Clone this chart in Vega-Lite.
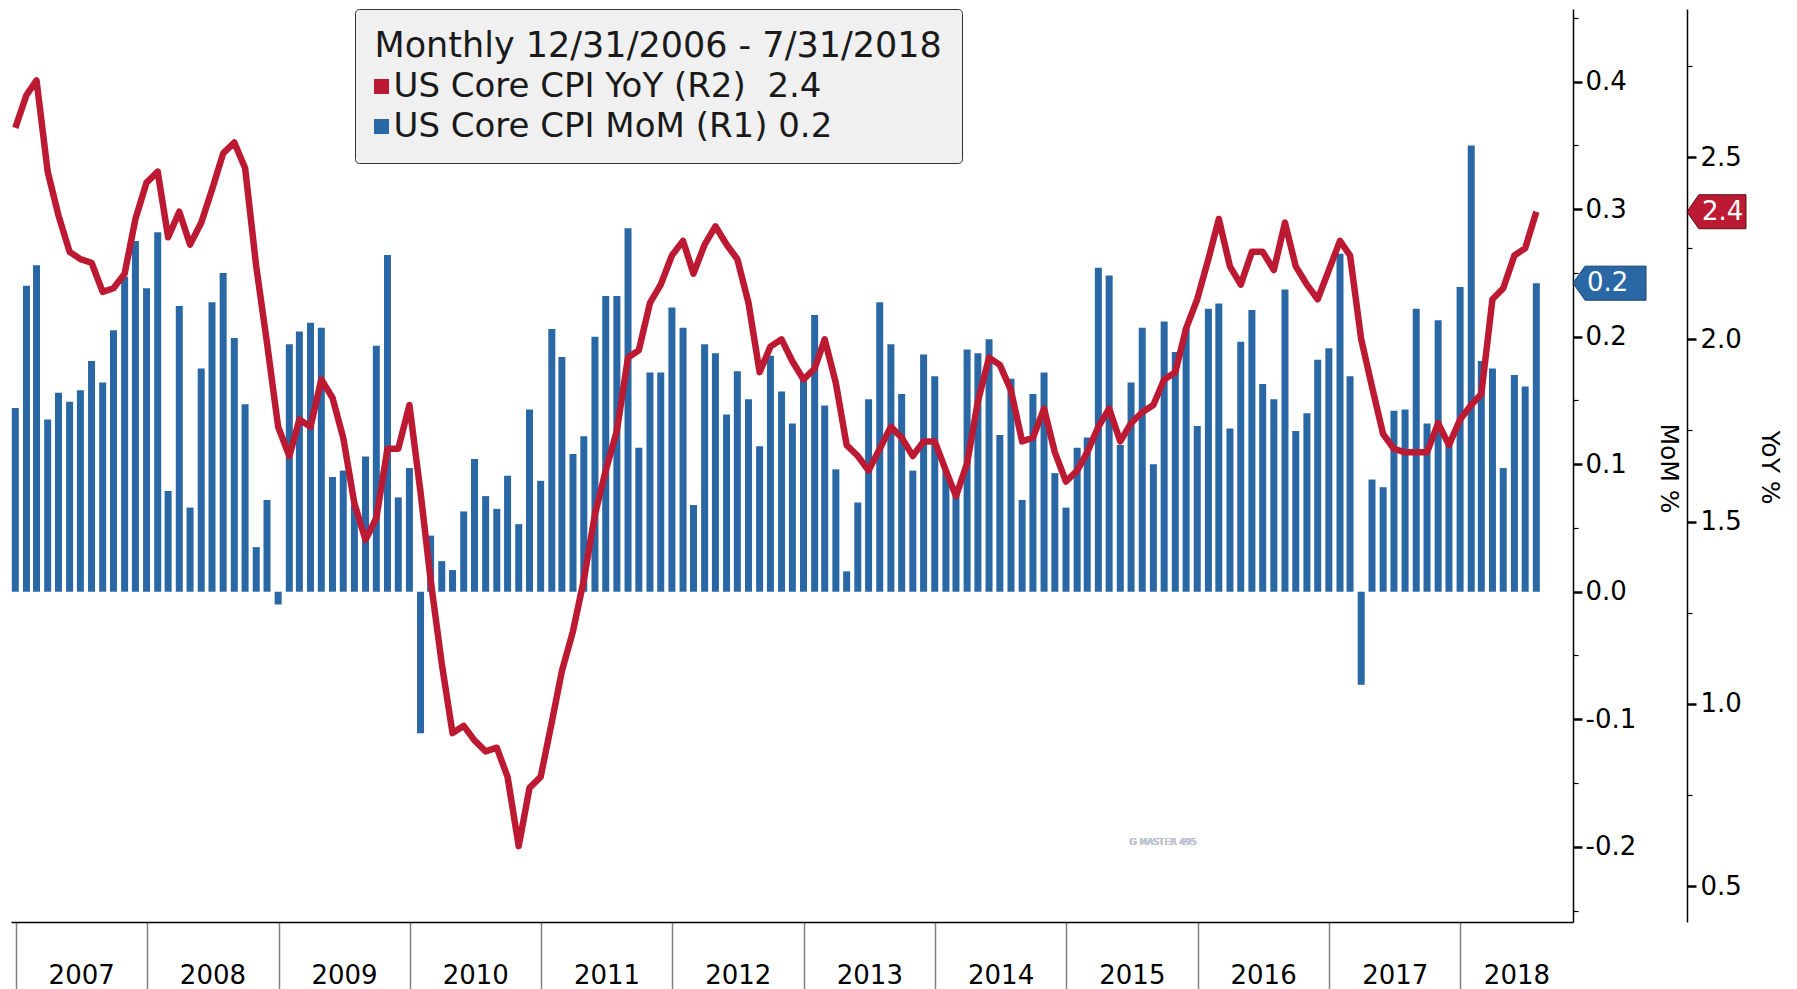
{
  "$schema": "https://vega.github.io/schema/vega-lite/v6.json",
  "width": 1562,
  "height": 913,
  "autosize": {"type": "none"},
  "padding": {"left": 11, "top": 9, "right": 224, "bottom": 67},
  "background": "white",
  "config": {"view": {"stroke": null}, "font": "DejaVu Sans"},
  "data": {"values": [
    {"date": "2006-12-31", "mom": 0.144, "yoy": 2.58},
    {"date": "2007-01-31", "mom": 0.240, "yoy": 2.67},
    {"date": "2007-02-28", "mom": 0.256, "yoy": 2.71},
    {"date": "2007-03-31", "mom": 0.135, "yoy": 2.46},
    {"date": "2007-04-30", "mom": 0.156, "yoy": 2.34},
    {"date": "2007-05-31", "mom": 0.149, "yoy": 2.24},
    {"date": "2007-06-30", "mom": 0.158, "yoy": 2.22},
    {"date": "2007-07-31", "mom": 0.181, "yoy": 2.21},
    {"date": "2007-08-31", "mom": 0.164, "yoy": 2.13},
    {"date": "2007-09-30", "mom": 0.205, "yoy": 2.14},
    {"date": "2007-10-31", "mom": 0.247, "yoy": 2.18},
    {"date": "2007-11-30", "mom": 0.275, "yoy": 2.33},
    {"date": "2007-12-31", "mom": 0.238, "yoy": 2.43},
    {"date": "2008-01-31", "mom": 0.282, "yoy": 2.46},
    {"date": "2008-02-29", "mom": 0.079, "yoy": 2.28},
    {"date": "2008-03-31", "mom": 0.224, "yoy": 2.35},
    {"date": "2008-04-30", "mom": 0.066, "yoy": 2.26},
    {"date": "2008-05-31", "mom": 0.175, "yoy": 2.32},
    {"date": "2008-06-30", "mom": 0.227, "yoy": 2.41},
    {"date": "2008-07-31", "mom": 0.250, "yoy": 2.51},
    {"date": "2008-08-31", "mom": 0.199, "yoy": 2.54},
    {"date": "2008-09-30", "mom": 0.147, "yoy": 2.47},
    {"date": "2008-10-31", "mom": 0.035, "yoy": 2.20},
    {"date": "2008-11-30", "mom": 0.072, "yoy": 1.99},
    {"date": "2008-12-31", "mom": -0.010, "yoy": 1.76},
    {"date": "2009-01-31", "mom": 0.194, "yoy": 1.68},
    {"date": "2009-02-28", "mom": 0.204, "yoy": 1.78},
    {"date": "2009-03-31", "mom": 0.211, "yoy": 1.76},
    {"date": "2009-04-30", "mom": 0.207, "yoy": 1.89},
    {"date": "2009-05-31", "mom": 0.090, "yoy": 1.84},
    {"date": "2009-06-30", "mom": 0.095, "yoy": 1.73},
    {"date": "2009-07-31", "mom": 0.068, "yoy": 1.55},
    {"date": "2009-08-31", "mom": 0.106, "yoy": 1.45},
    {"date": "2009-09-30", "mom": 0.193, "yoy": 1.51},
    {"date": "2009-10-31", "mom": 0.264, "yoy": 1.70},
    {"date": "2009-11-30", "mom": 0.074, "yoy": 1.70},
    {"date": "2009-12-31", "mom": 0.097, "yoy": 1.82},
    {"date": "2010-01-31", "mom": -0.111, "yoy": 1.58},
    {"date": "2010-02-28", "mom": 0.044, "yoy": 1.34},
    {"date": "2010-03-31", "mom": 0.024, "yoy": 1.11},
    {"date": "2010-04-30", "mom": 0.017, "yoy": 0.92},
    {"date": "2010-05-31", "mom": 0.063, "yoy": 0.94},
    {"date": "2010-06-30", "mom": 0.104, "yoy": 0.90},
    {"date": "2010-07-31", "mom": 0.075, "yoy": 0.87},
    {"date": "2010-08-31", "mom": 0.065, "yoy": 0.88},
    {"date": "2010-09-30", "mom": 0.091, "yoy": 0.80},
    {"date": "2010-10-31", "mom": 0.053, "yoy": 0.61},
    {"date": "2010-11-30", "mom": 0.143, "yoy": 0.77},
    {"date": "2010-12-31", "mom": 0.087, "yoy": 0.80},
    {"date": "2011-01-31", "mom": 0.206, "yoy": 0.95},
    {"date": "2011-02-28", "mom": 0.184, "yoy": 1.09},
    {"date": "2011-03-31", "mom": 0.108, "yoy": 1.20},
    {"date": "2011-04-30", "mom": 0.122, "yoy": 1.34},
    {"date": "2011-05-31", "mom": 0.200, "yoy": 1.52},
    {"date": "2011-06-30", "mom": 0.232, "yoy": 1.64},
    {"date": "2011-07-31", "mom": 0.232, "yoy": 1.75},
    {"date": "2011-08-31", "mom": 0.285, "yoy": 1.95},
    {"date": "2011-09-30", "mom": 0.113, "yoy": 1.97},
    {"date": "2011-10-31", "mom": 0.172, "yoy": 2.10},
    {"date": "2011-11-30", "mom": 0.172, "yoy": 2.15},
    {"date": "2011-12-31", "mom": 0.223, "yoy": 2.23},
    {"date": "2012-01-31", "mom": 0.207, "yoy": 2.27},
    {"date": "2012-02-29", "mom": 0.068, "yoy": 2.18},
    {"date": "2012-03-31", "mom": 0.194, "yoy": 2.26},
    {"date": "2012-04-30", "mom": 0.187, "yoy": 2.31},
    {"date": "2012-05-31", "mom": 0.139, "yoy": 2.26},
    {"date": "2012-06-30", "mom": 0.173, "yoy": 2.22},
    {"date": "2012-07-31", "mom": 0.151, "yoy": 2.10},
    {"date": "2012-08-31", "mom": 0.114, "yoy": 1.91},
    {"date": "2012-09-30", "mom": 0.185, "yoy": 1.98},
    {"date": "2012-10-31", "mom": 0.157, "yoy": 2.00},
    {"date": "2012-11-30", "mom": 0.132, "yoy": 1.94},
    {"date": "2012-12-31", "mom": 0.168, "yoy": 1.89},
    {"date": "2013-01-31", "mom": 0.217, "yoy": 1.92},
    {"date": "2013-02-28", "mom": 0.146, "yoy": 2.00},
    {"date": "2013-03-31", "mom": 0.096, "yoy": 1.88},
    {"date": "2013-04-30", "mom": 0.016, "yoy": 1.71},
    {"date": "2013-05-31", "mom": 0.070, "yoy": 1.68},
    {"date": "2013-06-30", "mom": 0.151, "yoy": 1.64},
    {"date": "2013-07-31", "mom": 0.227, "yoy": 1.70},
    {"date": "2013-08-31", "mom": 0.194, "yoy": 1.76},
    {"date": "2013-09-30", "mom": 0.155, "yoy": 1.73},
    {"date": "2013-10-31", "mom": 0.095, "yoy": 1.68},
    {"date": "2013-11-30", "mom": 0.186, "yoy": 1.72},
    {"date": "2013-12-31", "mom": 0.169, "yoy": 1.72},
    {"date": "2014-01-31", "mom": 0.095, "yoy": 1.64},
    {"date": "2014-02-28", "mom": 0.080, "yoy": 1.57},
    {"date": "2014-03-31", "mom": 0.190, "yoy": 1.66},
    {"date": "2014-04-30", "mom": 0.187, "yoy": 1.83},
    {"date": "2014-05-31", "mom": 0.198, "yoy": 1.95},
    {"date": "2014-06-30", "mom": 0.123, "yoy": 1.93},
    {"date": "2014-07-31", "mom": 0.167, "yoy": 1.86},
    {"date": "2014-08-31", "mom": 0.072, "yoy": 1.72},
    {"date": "2014-09-30", "mom": 0.155, "yoy": 1.73},
    {"date": "2014-10-31", "mom": 0.172, "yoy": 1.81},
    {"date": "2014-11-30", "mom": 0.093, "yoy": 1.69},
    {"date": "2014-12-31", "mom": 0.066, "yoy": 1.61},
    {"date": "2015-01-31", "mom": 0.113, "yoy": 1.64},
    {"date": "2015-02-28", "mom": 0.121, "yoy": 1.69},
    {"date": "2015-03-31", "mom": 0.254, "yoy": 1.76},
    {"date": "2015-04-30", "mom": 0.248, "yoy": 1.81},
    {"date": "2015-05-31", "mom": 0.115, "yoy": 1.72},
    {"date": "2015-06-30", "mom": 0.164, "yoy": 1.77},
    {"date": "2015-07-31", "mom": 0.207, "yoy": 1.80},
    {"date": "2015-08-31", "mom": 0.100, "yoy": 1.82},
    {"date": "2015-09-30", "mom": 0.212, "yoy": 1.89},
    {"date": "2015-10-31", "mom": 0.188, "yoy": 1.91},
    {"date": "2015-11-30", "mom": 0.207, "yoy": 2.03},
    {"date": "2015-12-31", "mom": 0.130, "yoy": 2.11},
    {"date": "2016-01-31", "mom": 0.222, "yoy": 2.22},
    {"date": "2016-02-29", "mom": 0.226, "yoy": 2.33},
    {"date": "2016-03-31", "mom": 0.128, "yoy": 2.20},
    {"date": "2016-04-30", "mom": 0.196, "yoy": 2.15},
    {"date": "2016-05-31", "mom": 0.221, "yoy": 2.24},
    {"date": "2016-06-30", "mom": 0.163, "yoy": 2.24},
    {"date": "2016-07-31", "mom": 0.151, "yoy": 2.19},
    {"date": "2016-08-31", "mom": 0.237, "yoy": 2.32},
    {"date": "2016-09-30", "mom": 0.126, "yoy": 2.20},
    {"date": "2016-10-31", "mom": 0.140, "yoy": 2.15},
    {"date": "2016-11-30", "mom": 0.182, "yoy": 2.11},
    {"date": "2016-12-31", "mom": 0.191, "yoy": 2.19},
    {"date": "2017-01-31", "mom": 0.265, "yoy": 2.27},
    {"date": "2017-02-28", "mom": 0.169, "yoy": 2.23},
    {"date": "2017-03-31", "mom": -0.073, "yoy": 2.00},
    {"date": "2017-04-30", "mom": 0.088, "yoy": 1.87},
    {"date": "2017-05-31", "mom": 0.082, "yoy": 1.74},
    {"date": "2017-06-30", "mom": 0.142, "yoy": 1.70},
    {"date": "2017-07-31", "mom": 0.143, "yoy": 1.69},
    {"date": "2017-08-31", "mom": 0.222, "yoy": 1.69},
    {"date": "2017-09-30", "mom": 0.132, "yoy": 1.69},
    {"date": "2017-10-31", "mom": 0.213, "yoy": 1.77},
    {"date": "2017-11-30", "mom": 0.115, "yoy": 1.71},
    {"date": "2017-12-31", "mom": 0.239, "yoy": 1.78},
    {"date": "2018-01-31", "mom": 0.350, "yoy": 1.82},
    {"date": "2018-02-28", "mom": 0.181, "yoy": 1.85},
    {"date": "2018-03-31", "mom": 0.175, "yoy": 2.11},
    {"date": "2018-04-30", "mom": 0.097, "yoy": 2.14},
    {"date": "2018-05-31", "mom": 0.170, "yoy": 2.23},
    {"date": "2018-06-30", "mom": 0.161, "yoy": 2.25},
    {"date": "2018-07-31", "mom": 0.242, "yoy": 2.35}
  ]},
  "encoding": {
    "x": {
      "field": "date",
      "type": "temporal",
      "scale": {"type": "utc", "padding": 0, "nice": false, "domain": [{"year": 2006, "month": 12, "date": 19, "utc": true}, {"year": 2018, "month": 11, "date": 10, "utc": true}]},
      "axis": {
        "values": [
          {"year": 2007, "month": 1, "date": 1, "utc": true},
          {"year": 2008, "month": 1, "date": 1, "utc": true},
          {"year": 2009, "month": 1, "date": 1, "utc": true},
          {"year": 2010, "month": 1, "date": 1, "utc": true},
          {"year": 2011, "month": 1, "date": 1, "utc": true},
          {"year": 2012, "month": 1, "date": 1, "utc": true},
          {"year": 2013, "month": 1, "date": 1, "utc": true},
          {"year": 2014, "month": 1, "date": 1, "utc": true},
          {"year": 2015, "month": 1, "date": 1, "utc": true},
          {"year": 2016, "month": 1, "date": 1, "utc": true},
          {"year": 2017, "month": 1, "date": 1, "utc": true},
          {"year": 2018, "month": 1, "date": 1, "utc": true}
        ],
        "format": "%Y",
        "title": null,
        "grid": false,
        "domainColor": "#000000",
        "domainWidth": 1.5,
        "tickColor": "#808080",
        "tickWidth": 1.5,
        "tickSize": 70,
        "labelFont": "DejaVu Sans",
        "labelFontSize": 26,
        "labelColor": "#000000",
        "labelAlign": "center",
        "labelBaseline": "top",
        "labelPadding": -30,
        "labelOffset": {"condition": {"test": "utcyear(datum.value) == 2018", "value": 56}, "value": 65.5},
        "labelOverlap": false,
        "labelFlush": false,
        "labelBound": false
      }
    }
  },
  "layer": [
    {
      "encoding": {
        "y": {
          "field": "mom",
          "type": "quantitative",
          "scale": {"domain": [-0.259, 0.457], "nice": false, "zero": false, "padding": 0},
          "axis": {
            "orient": "right",
            "title": "MoM %",
            "values": [-0.25, -0.2, -0.15, -0.1, -0.05, 0, 0.05, 0.1, 0.15, 0.2, 0.25, 0.3, 0.35, 0.4, 0.45],
            "labelExpr": "abs(round(datum.value*100)) % 10 == 0 ? replace(format(datum.value, '.1f'), '\u2212', '-') : ''",
            "grid": false,
            "domainColor": "#000000",
            "domainWidth": 1.5,
            "tickColor": "#000000",
            "tickSize": {"condition": {"test": "abs(round(datum.value*100)) % 10 == 0", "value": 9}, "value": 5},
            "tickWidth": {"condition": {"test": "abs(round(datum.value*100)) % 10 == 0", "value": 2.5}, "value": 1.2},
            "labelPadding": 3,
            "labelFont": "DejaVu Sans",
            "labelFontSize": 26,
            "labelColor": "#000000",
            "labelAlign": "left",
            "labelBaseline": "middle",
            "labelOverlap": false,
            "labelFlush": false,
            "titleFont": "DejaVu Sans",
            "titleFontSize": 25,
            "titleFontWeight": "normal",
            "titleColor": "#000000",
            "titleAngle": 90,
            "titleAlign": "center",
            "titleBaseline": "middle",
            "titleX": 95.6,
            "titleY": 459
          }
        }
      },
      "layer": [
        {
          "mark": {"type": "bar", "size": 7},
          "encoding": {
            "color": {
              "datum": "US Core CPI MoM (R1) 0.2",
              "scale": {"domain": ["US Core CPI YoY (R2)\u00a0\u00a02.4", "US Core CPI MoM (R1) 0.2"], "range": ["#BC1A33", "#2A67A5"]},
              "legend": {
                "orient": "none",
                "legendX": 344,
                "legendY": 0,
                "title": "Monthly 12/31/2006 - 7/31/2018",
                "titleFont": "DejaVu Sans",
                "titleFontSize": 35,
                "titleFontWeight": "normal",
                "titleColor": "#1a1a1a",
                "titleLimit": 2000,
                "titlePadding": 6,
                "labelFont": "DejaVu Sans",
                "labelFontSize": 34,
                "labelColor": "#1a1a1a",
                "labelLimit": 2000,
                "labelOffset": -5,
                "symbolOffset": -10,
                "symbolType": "square",
                "symbolSize": 225,
                "symbolStrokeWidth": 0,
                "rowPadding": 6,
                "padding": 19.5,
                "fillColor": "#f0f0f0",
                "strokeColor": "#333333",
                "cornerRadius": 4,
                "direction": "vertical",
                "encode": {"symbols": {"update": {"fill": {"scale": "color", "field": "value"}, "stroke": {"value": "transparent"}, "opacity": {"value": 1}}}}
              }
            }
          }
        },
        {
          "transform": [
            {"window": [{"op": "row_number", "as": "rn"}], "sort": [{"field": "date", "order": "descending"}]},
            {"filter": "datum.rn == 1"}
          ],
          "mark": {"type": "point", "shape": "M0,0L0.33,-0.466L2,-0.466L2,0.466L0.33,0.466Z", "size": 5329, "filled": true, "fill": "#2A67A5", "stroke": "#1c3f66", "strokeWidth": 1, "opacity": 1},
          "encoding": {"x": {"value": "width"}}
        },
        {
          "transform": [
            {"window": [{"op": "row_number", "as": "rn"}], "sort": [{"field": "date", "order": "descending"}]},
            {"filter": "datum.rn == 1"}
          ],
          "mark": {"type": "text", "align": "left", "baseline": "middle", "dx": 14, "fontSize": 26, "font": "DejaVu Sans", "color": "#ffffff"},
          "encoding": {"x": {"value": "width"}, "text": {"field": "mom", "type": "quantitative", "format": ".1f"}}
        },
        {
          "mark": {"type": "text", "text": "G MASTER 495", "fontSize": 9, "font": "DejaVu Sans", "color": "#c0c6d2", "align": "center", "baseline": "middle"},
          "encoding": {
            "x": {"datum": {"year": 2015, "month": 9, "date": 27, "utc": true}, "type": "temporal"},
            "y": {"datum": -0.196, "type": "quantitative"}
          }
        }
      ]
    },
    {
      "encoding": {
        "y": {
          "field": "yoy",
          "type": "quantitative",
          "scale": {"domain": [0.402, 2.906], "nice": false, "zero": false, "padding": 0},
          "axis": {
            "orient": "right",
            "offset": 114,
            "title": "YoY %",
            "values": [0.5, 0.75, 1, 1.25, 1.5, 1.75, 2, 2.25, 2.5, 2.75],
            "labelExpr": "round(datum.value*100) % 50 == 0 ? format(datum.value, '.1f') : ''",
            "grid": false,
            "domainColor": "#000000",
            "domainWidth": 1.5,
            "tickColor": "#000000",
            "tickSize": {"condition": {"test": "round(datum.value*100) % 50 == 0", "value": 9}, "value": 5},
            "tickWidth": {"condition": {"test": "round(datum.value*100) % 50 == 0", "value": 2.5}, "value": 1.2},
            "labelPadding": 4,
            "labelFont": "DejaVu Sans",
            "labelFontSize": 26,
            "labelColor": "#000000",
            "labelAlign": "left",
            "labelBaseline": "middle",
            "labelOverlap": false,
            "labelFlush": false,
            "titleFont": "DejaVu Sans",
            "titleFontSize": 25,
            "titleFontWeight": "normal",
            "titleColor": "#000000",
            "titleAngle": 90,
            "titleAlign": "center",
            "titleBaseline": "middle",
            "titleX": 82.5,
            "titleY": 458
          }
        }
      },
      "layer": [
        {
          "mark": {"type": "line", "strokeWidth": 6.5, "strokeJoin": "round"},
          "encoding": {
            "color": {
              "datum": "US Core CPI YoY (R2)\u00a0\u00a02.4",
              "scale": {"domain": ["US Core CPI YoY (R2)\u00a0\u00a02.4", "US Core CPI MoM (R1) 0.2"], "range": ["#BC1A33", "#2A67A5"]}
            }
          }
        },
        {
          "transform": [
            {"window": [{"op": "row_number", "as": "rn"}], "sort": [{"field": "date", "order": "descending"}]},
            {"filter": "datum.rn == 1"}
          ],
          "mark": {"type": "point", "shape": "M3.864,0L4.264,-0.576L5.864,-0.576L5.864,0.576L4.264,0.576Z", "size": 3481, "filled": true, "fill": "#BC1A33", "stroke": "#5a0d18", "strokeWidth": 1, "opacity": 1},
          "encoding": {"x": {"value": "width"}}
        },
        {
          "transform": [
            {"window": [{"op": "row_number", "as": "rn"}], "sort": [{"field": "date", "order": "descending"}]},
            {"filter": "datum.rn == 1"}
          ],
          "mark": {"type": "text", "align": "left", "baseline": "middle", "dx": 129, "fontSize": 26, "font": "DejaVu Sans", "color": "#ffffff"},
          "encoding": {"x": {"value": "width"}, "text": {"field": "yoy", "type": "quantitative", "format": ".1f"}}
        }
      ]
    }
  ],
  "resolve": {"scale": {"y": "independent"}, "axis": {"y": "independent"}}
}
